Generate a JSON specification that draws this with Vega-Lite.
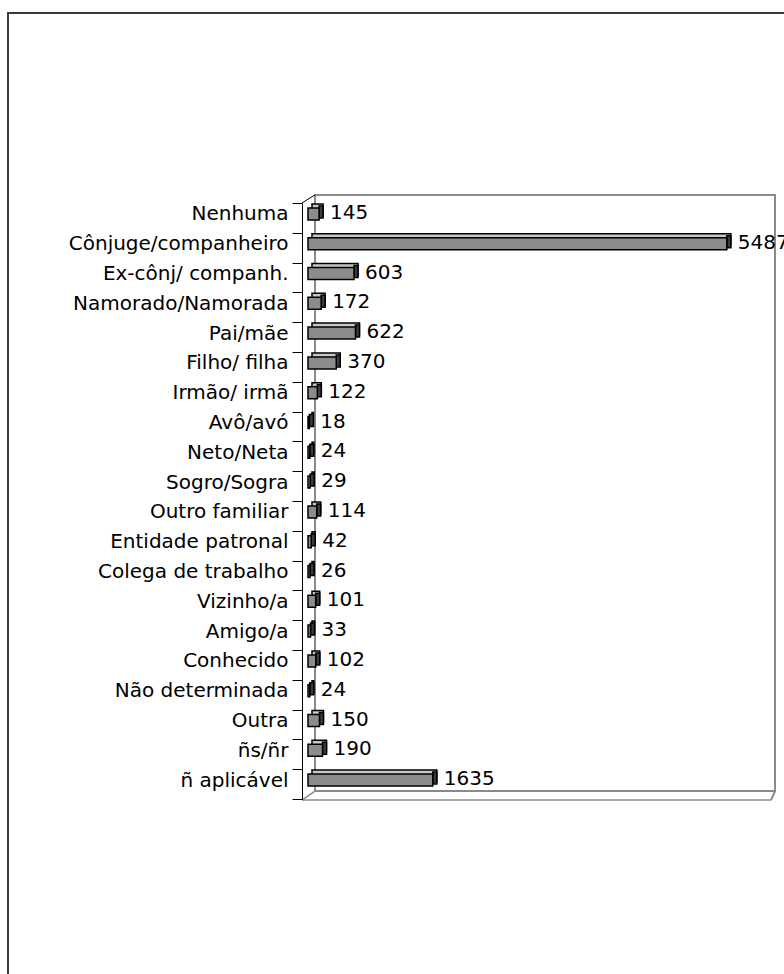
{
  "$schema": "https://vega.github.io/schema/vega-lite/v6.json",
  "autosize": {"type": "none"},
  "width": 780,
  "height": 966,
  "padding": {"left": 8, "top": 13, "right": 0, "bottom": 0},
  "background": "white",
  "config": {
    "view": {"stroke": "#3a3a3a", "strokeWidth": 2},
    "font": "DejaVu Sans"
  },
  "data": {
    "values": [
      {"cat": "Nenhuma", "n": 145},
      {"cat": "Cônjuge/companheiro", "n": 5487},
      {"cat": "Ex-cônj/ companh.", "n": 603},
      {"cat": "Namorado/Namorada", "n": 172},
      {"cat": "Pai/mãe", "n": 622},
      {"cat": "Filho/ filha", "n": 370},
      {"cat": "Irmão/ irmã", "n": 122},
      {"cat": "Avô/avó", "n": 18},
      {"cat": "Neto/Neta", "n": 24},
      {"cat": "Sogro/Sogra", "n": 29},
      {"cat": "Outro familiar", "n": 114},
      {"cat": "Entidade patronal", "n": 42},
      {"cat": "Colega de trabalho", "n": 26},
      {"cat": "Vizinho/a", "n": 101},
      {"cat": "Amigo/a", "n": 33},
      {"cat": "Conhecido", "n": 102},
      {"cat": "Não determinada", "n": 24},
      {"cat": "Outra", "n": 150},
      {"cat": "ñs/ñr", "n": 190},
      {"cat": "ñ aplicável", "n": 1635}
    ]
  },
  "encoding": {
    "y": {
      "field": "cat", "type": "nominal", "sort": null, "title": null,
      "scale": {
        "domain": ["Nenhuma", "Cônjuge/companheiro", "Ex-cônj/ companh.", "Namorado/Namorada", "Pai/mãe", "Filho/ filha", "Irmão/ irmã", "Avô/avó", "Neto/Neta", "Sogro/Sogra", "Outro familiar", "Entidade patronal", "Colega de trabalho", "Vizinho/a", "Amigo/a", "Conhecido", "Não determinada", "Outra", "ñs/ñr", "ñ aplicável"],
        "range": [190, 786], "paddingInner": 0, "paddingOuter": 0
      },
      "axis": {
        "offset": -294, "tickBand": "extent", "grid": false,
        "domainColor": "#000000", "tickColor": "#000000", "tickSize": 10,
        "labelFont": "DejaVu Sans", "labelFontSize": 20, "labelColor": "#000000",
        "labelPadding": 4, "labelOffset": -4, "labelLimit": 0
      }
    }
  },
  "layer": [
    {
      "data": {"values": [{"a": 0, "b": 6000}]},
      "mark": {"type": "rect", "fill": null, "stroke": "#8a8a8a", "strokeWidth": 2, "xOffset": 7, "x2Offset": 9, "yOffset": -23, "y2Offset": 7},
      "encoding": {
        "x": {"field": "a", "type": "quantitative", "scale": {"domain": [0, 6000], "range": [300, 758]}, "axis": null},
        "x2": {"field": "b"},
        "y": {"datum": "Nenhuma"},
        "y2": {"datum": "ñ aplicável"}
      }
    },
    {
      "data": {"values": [{"a": 0, "b": 6000}]},
      "mark": {"type": "rule", "stroke": "#a8a8a8", "strokeWidth": 2, "xOffset": -6, "x2Offset": 5, "yOffset": 16, "y2Offset": 16},
      "encoding": {
        "x": {"field": "a", "type": "quantitative"},
        "x2": {"field": "b"},
        "y": {"datum": "ñ aplicável"},
        "y2": {"datum": "ñ aplicável"}
      }
    },
    {
      "data": {"values": [{"a": 6000, "b": 6000}]},
      "mark": {"type": "rule", "stroke": "#8a8a8a", "strokeWidth": 2, "xOffset": 5, "x2Offset": 9, "yOffset": 16, "y2Offset": 7},
      "encoding": {
        "x": {"field": "a", "type": "quantitative"},
        "x2": {"field": "b"},
        "y": {"datum": "ñ aplicável"},
        "y2": {"datum": "ñ aplicável"}
      }
    },
    {
      "data": {"values": [{"a": 0, "b": 0}]},
      "mark": {"type": "rule", "stroke": "#8a8a8a", "strokeWidth": 1.5, "xOffset": -6, "x2Offset": 7, "yOffset": 16, "y2Offset": 7},
      "encoding": {
        "x": {"field": "a", "type": "quantitative"},
        "x2": {"field": "b"},
        "y": {"datum": "ñ aplicável"},
        "y2": {"datum": "ñ aplicável"}
      }
    },
    {
      "data": {"values": [{"a": 0, "b": 0}]},
      "mark": {"type": "rule", "stroke": "#000000", "strokeWidth": 1, "xOffset": -6, "x2Offset": 7, "yOffset": -15, "y2Offset": -23},
      "encoding": {
        "x": {"field": "a", "type": "quantitative"},
        "x2": {"field": "b"},
        "y": {"datum": "Nenhuma"},
        "y2": {"datum": "Nenhuma"}
      }
    },
    {
      "mark": {"type": "bar", "orient": "horizontal", "size": 12, "fill": "#c8c8c8", "stroke": "#000000", "strokeWidth": 1.5, "xOffset": 4, "x2Offset": 4, "yOffset": -8},
      "encoding": {
        "x": {"field": "n", "type": "quantitative"}
      }
    },
    {
      "mark": {"type": "bar", "orient": "horizontal", "size": 12, "fill": "#3c3c3c", "stroke": "#000000", "strokeWidth": 1.5, "xOffset": 0, "x2Offset": 4, "yOffset": -6},
      "encoding": {
        "x": {"field": "n", "type": "quantitative"},
        "x2": {"field": "n"}
      }
    },
    {
      "mark": {"type": "bar", "orient": "horizontal", "size": 12, "fill": "#8c8c8c", "stroke": "#000000", "strokeWidth": 1.5, "yOffset": -4},
      "encoding": {
        "x": {"field": "n", "type": "quantitative"}
      }
    },
    {
      "mark": {"type": "text", "align": "left", "baseline": "middle", "dx": 11, "yOffset": -5, "font": "DejaVu Sans", "fontSize": 20, "color": "#000000"},
      "encoding": {
        "x": {"field": "n", "type": "quantitative"},
        "text": {"field": "n", "type": "quantitative", "format": "d"}
      }
    }
  ]
}
